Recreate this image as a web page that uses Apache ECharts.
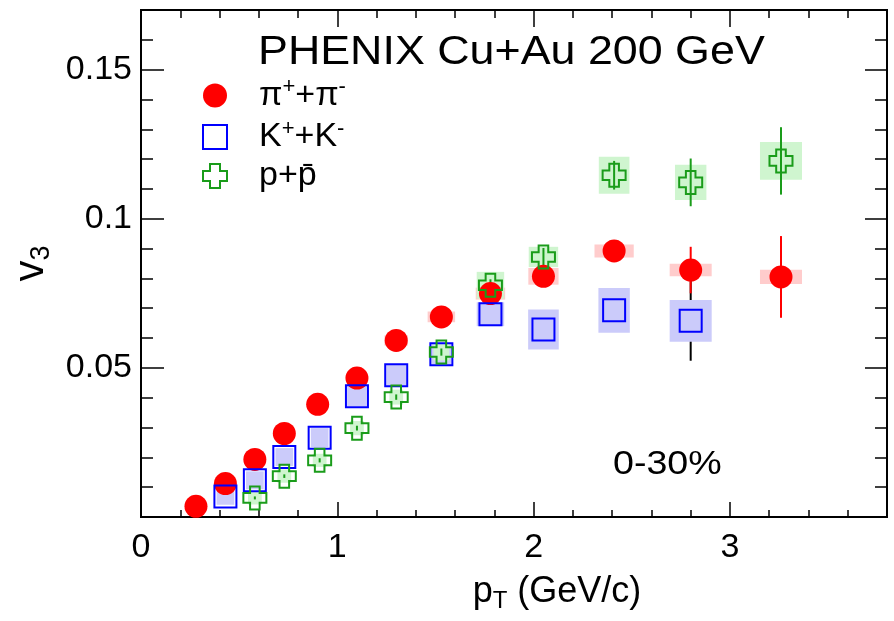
<!DOCTYPE html>
<html>
<head>
<meta charset="utf-8">
<script src="https://cdn.jsdelivr.net/npm/echarts@6/dist/echarts.min.js"></script>
<style>
  html, body { margin: 0; padding: 0; background: #fff; }
  #main { width: 894px; height: 621px; }
</style>
</head>
<body>
<div id="main"></div>
<script>
// pions
const ptPi = [0.28, 0.43, 0.58, 0.73, 0.90, 1.10, 1.30, 1.53, 1.78, 2.05, 2.41, 2.80, 3.26];
const v3Pi = [0.0036, 0.0112, 0.0193, 0.0280, 0.0378, 0.0466, 0.0592, 0.0671, 0.0749, 0.0807, 0.0892, 0.0828, 0.0805];
const statPi = [0.0003, 0.0004, 0.0004, 0.0005, 0.0005, 0.0006, 0.0007, 0.0009, 0.0012, 0.0020, 0.0030, 0.0078, 0.0137];
const sysPi = [0.0008, 0.0010, 0.0011, 0.0012, 0.0013, 0.0015, 0.0017, 0.0018, 0.0020, 0.0028, 0.0022, 0.0021, 0.0024];
const sysXPi = [0.04, 0.04, 0.04, 0.045, 0.045, 0.05, 0.06, 0.07, 0.075, 0.077, 0.1, 0.107, 0.107];

// kaons
const ptK = [0.43, 0.58, 0.73, 0.91, 1.10, 1.30, 1.53, 1.78, 2.05, 2.41, 2.80];
const v3K = [0.0069, 0.0123, 0.0201, 0.0266, 0.0405, 0.0475, 0.0546, 0.0680, 0.0629, 0.0693, 0.0658];
const statK = [0.0005, 0.0006, 0.0007, 0.0008, 0.0010, 0.0012, 0.0015, 0.0034, 0.0047, 0.0068, 0.0134];
const sysK = [0.0028, 0.0030, 0.0030, 0.0032, 0.0034, 0.0035, 0.0036, 0.0040, 0.0067, 0.0075, 0.0070];
const sysXK = [0.045, 0.045, 0.045, 0.045, 0.05, 0.05, 0.05, 0.07, 0.078, 0.08, 0.107];

// protons
const ptP = [0.58, 0.73, 0.91, 1.10, 1.30, 1.53, 1.78, 2.05, 2.41, 2.80, 3.26];
const v3P = [0.0064, 0.0137, 0.0190, 0.0298, 0.0402, 0.0553, 0.0777, 0.0872, 0.1146, 0.1122, 0.1194];
const statP = [0.0005, 0.0006, 0.0007, 0.0008, 0.0009, 0.0012, 0.0020, 0.0030, 0.0048, 0.0080, 0.0113];
const sysP = [0.0022, 0.0022, 0.0022, 0.0024, 0.0025, 0.0028, 0.0045, 0.0034, 0.0062, 0.0059, 0.0063];
const sysXP = [0.035, 0.035, 0.035, 0.035, 0.035, 0.04, 0.07, 0.075, 0.078, 0.08, 0.107];

const xTicks = [0, 1, 2, 3];
const yTicks = [0.05, 0.1, 0.15];

const FONT = "'Liberation Sans', Arial, sans-serif";
const crossPath = 'path://M7,0 H17 V7 H24 V17 H17 V24 H7 V17 H0 V7 H7 Z';

function sysRender(fill) {
    return function (params, api) {
        const x = api.value(0), y = api.value(1), s = api.value(2), w = api.value(3);
        const a = api.coord([x - w, y + s]);
        const b = api.coord([x + w, y - s]);
        return {
            type: 'rect',
            shape: { x: a[0], y: a[1], width: b[0] - a[0], height: b[1] - a[1] },
            style: { fill: fill }
        };
    };
}

function errRender(stroke) {
    return function (params, api) {
        const x = api.value(0), y = api.value(1), e = api.value(2);
        const a = api.coord([x, y + e]);
        const b = api.coord([x, y - e]);
        return {
            type: 'line',
            shape: { x1: a[0], y1: a[1], x2: b[0], y2: b[1] },
            style: { stroke: stroke, lineWidth: 2 }
        };
    };
}

function sysData(pt, v, s, dx) {
    return pt.map((x, i) => [x, v[i], s[i], dx[i]]);
}
function errData(pt, v, e) {
    return pt.map((x, i) => [x, v[i], e[i]]);
}
function pts(pt, v) {
    return pt.map((x, i) => [x, v[i]]);
}

function custom(data, render) {
    return { type: 'custom', xAxisIndex: 1, yAxisIndex: 1, data: data, renderItem: render, silent: true };
}

const lineStyle = { color: '#000', width: 2 };
function xAx(pos, interval, len, labels) {
    return {
        type: 'value', position: pos, min: 0, max: 3.8, interval: interval,
        axisLine: { show: true, onZero: false, lineStyle: lineStyle },
        axisTick: { show: true, inside: true, length: len, lineStyle: { color: '#000', width: 1.5 } },
        splitLine: { show: false },
        axisLabel: labels ? {
            show: true, margin: 14, color: '#000', fontSize: 34, fontFamily: FONT,
            formatter: v => xTicks.indexOf(v) >= 0 ? String(v) : ''
        } : { show: false }
    };
}
function yAx(pos, interval, len, labels) {
    return {
        type: 'value', position: pos, min: 0, max: 0.17, interval: interval,
        axisLine: { show: true, onZero: false, lineStyle: lineStyle },
        axisTick: { show: true, inside: true, length: len, lineStyle: { color: '#000', width: 1.5 } },
        splitLine: { show: false },
        axisLabel: labels ? {
            show: true, margin: 9, color: '#000', fontSize: 34, fontFamily: FONT,
            formatter: function (v) {
                const r = Math.round(v * 100) / 100;
                return yTicks.indexOf(r) >= 0 && Math.abs(r - v) < 1e-9 ? String(r) : '';
            }
        } : { show: false }
    };
}

const xAxes = [xAx('bottom', 0.2, 7, false), xAx('bottom', 1, 15, true), xAx('top', 0.2, 8, false), xAx('top', 1, 17, false)];
xAxes[1].name = '{a|p}{s|T}{a| (GeV/c)}';
xAxes[1].nameLocation = 'middle';
xAxes[1].nameGap = 54;
xAxes[1].nameTextStyle = {
    color: '#000', fontFamily: FONT, padding: [0, 0, 0, 86],
    rich: { a: { fontSize: 36, fontFamily: FONT, color: '#000' }, s: { fontSize: 24, fontFamily: FONT, color: '#000', padding: [18, 0, 0, 0] } }
};

const yAxes = [yAx('left', 0.01, 12, false), yAx('left', 0.05, 23, true), yAx('right', 0.01, 12, false), yAx('right', 0.05, 22, false)];
yAxes[1].name = '{a|v}{s|3}';
yAxes[1].nameLocation = 'middle';
yAxes[1].nameGap = 86;
yAxes[1].nameTextStyle = {
    color: '#000', fontFamily: FONT,
    rich: { a: { fontSize: 42, fontFamily: FONT, color: '#000' }, s: { fontSize: 27, fontFamily: FONT, color: '#000', padding: [20, 0, 0, 0] } }
};

const legendNames = {
    'π+π': '{g|}{a|π}{s|+}{a|+π}{s|-}',
    'K+K': '{g|}{a|K}{s|+}{a|+K}{s|-}',
    'p+p': '{g|}{a|p+p\u0304}'
};

let myChart = echarts.init(document.getElementById('main'));

let option = {
    backgroundColor: '#fff',
    animation: false,
    grid: { left: 141, right: 7, top: 10, bottom: 104 },
    xAxis: xAxes,
    yAxis: yAxes,
    legend: {
        orient: 'vertical',
        left: 197,
        top: 71,
        itemWidth: 24,
        itemHeight: 24,
        itemGap: 5,
        selectedMode: false,
        data: ['π+π', 'K+K', 'p+p'],
        formatter: name => legendNames[name],
        textStyle: {
            color: '#000', fontFamily: FONT, fontSize: 34,
            rich: {
                g: { width: 27 },
                a: { fontSize: 34, fontFamily: FONT, color: '#000' },
                s: { fontSize: 22, fontFamily: FONT, color: '#000', padding: [0, 0, 17, 0] }
            }
        }
    },
    graphic: [
        {
            type: 'text', left: 258, top: 33, scaleX: 1.12,
            style: { text: 'PHENIX Cu+Au 200 GeV', font: '40px ' + FONT, fill: '#000' }
        },
        {
            type: 'text', left: 613, top: 448, scaleX: 1.14,
            style: { text: '0-30%', font: '33px ' + FONT, fill: '#000' }
        }
    ],
    series: [
        custom(sysData(ptPi, v3Pi, sysPi, sysXPi), sysRender('#ffcccc')),
        custom(errData(ptK, v3K, statK), errRender('#000')),
        custom(errData(ptPi, v3Pi, statPi), errRender('#ff0000')),
        {
            name: 'π+π', type: 'scatter', xAxisIndex: 1, yAxisIndex: 1,
            symbol: 'circle', symbolSize: 23,
            itemStyle: { color: '#ff0000', opacity: 1 },
            data: pts(ptPi, v3Pi)
        },
        custom(sysData(ptK, v3K, sysK, sysXK), sysRender('#cbcbfa')),
        {
            name: 'K+K', type: 'scatter', xAxisIndex: 1, yAxisIndex: 1,
            symbol: 'rect', symbolSize: 22,
            itemStyle: { color: 'rgba(0,0,0,0)', borderColor: '#0000ff', borderWidth: 2, opacity: 1 },
            data: pts(ptK, v3K)
        },
        custom(sysData(ptP, v3P, sysP, sysXP), sysRender('#cff5cf')),
        custom(errData(ptP, v3P, statP), errRender('#1a9c1a')),
        {
            name: 'p+p', type: 'scatter', xAxisIndex: 1, yAxisIndex: 1,
            symbol: crossPath, symbolSize: 23,
            itemStyle: { color: 'rgba(0,0,0,0)', borderColor: '#1a9c1a', borderWidth: 2, opacity: 1 },
            data: pts(ptP, v3P)
        }
    ]
};

myChart.setOption(option);
</script>
</body>
</html>
